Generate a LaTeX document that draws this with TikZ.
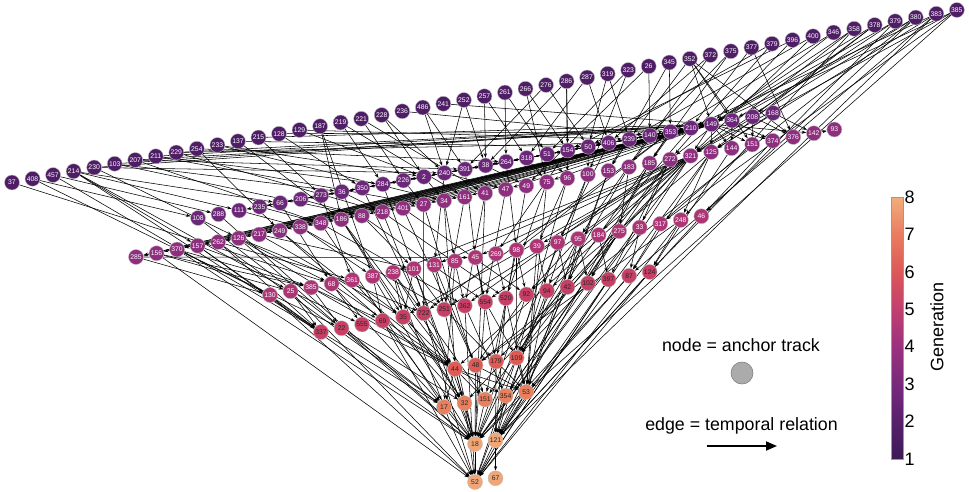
\documentclass[tikz,border=0pt]{standalone}
\usepackage{fontspec}
\setmainfont{Liberation Sans}
\usetikzlibrary{arrows.meta}
\pgfdeclarelayer{bg}
\pgfsetlayers{bg,main}
\definecolor{ga}{HTML}{4E1D66}
\definecolor{gb}{HTML}{6C2679}
\definecolor{gc}{HTML}{8E2E7E}
\definecolor{gd}{HTML}{AE3575}
\definecolor{ge}{HTML}{C83F66}
\definecolor{gf}{HTML}{E05A55}
\definecolor{gg}{HTML}{EA7F5E}
\definecolor{gh}{HTML}{F0A676}
\definecolor{cmA}{HTML}{3C1A55}
\definecolor{cmB}{HTML}{58206B}
\definecolor{cmC}{HTML}{792A7C}
\definecolor{cmD}{HTML}{9B317F}
\definecolor{cmE}{HTML}{C23F6F}
\definecolor{cmF}{HTML}{DC5858}
\definecolor{cmG}{HTML}{EA7C5F}
\definecolor{cmH}{HTML}{F1AE7C}
\pgfdeclareverticalshading{genbar}{100bp}{color(0bp)=(cmA); color(25bp)=(cmA); color(32.14bp)=(cmB); color(39.29bp)=(cmC); color(46.43bp)=(cmD); color(53.57bp)=(cmE); color(60.71bp)=(cmF); color(67.86bp)=(cmG); color(75bp)=(cmH); color(100bp)=(cmH)}
\begin{document}
\begin{tikzpicture}[x=1pt,y=-1pt,
  gnode/.style={circle,minimum size=15pt,inner sep=0pt,draw=black!25,line width=0.4pt,font=\fontsize{6.8}{7}\selectfont,text=white},
  ra/.style={gnode,fill=ga},
  rb/.style={gnode,fill=gb},
  rc/.style={gnode,fill=gc},
  rd/.style={gnode,fill=gd},
  re/.style={gnode,fill=ge,text=black!85},
  rf/.style={gnode,fill=gf,text=black!85},
  rg/.style={gnode,fill=gg,text=black!85},
  rh/.style={gnode,fill=gh,text=black!85},
  edge/.style={line width=0.55pt,-{Stealth[length=4.5pt,width=3.2pt]}},
  big/.style={font=\fontsize{17.8}{20}\selectfont},
  tick/.style={font=\fontsize{18}{20}\selectfont,anchor=west,inner sep=0pt}]
\useasboundingbox (0,0) rectangle (969,491);
% rows of nodes
\foreach \lab [count=\i] in {37,408,457,214,230,103,207,211,229,254,233,137,215,128,129,187,219,221,228,236,486,241,252,257,261,266,276,286,287,319,323,26,345,352,372,375,377,379,396,400,346,358,378,379,380,383,385}
  \node[ra] (a\i) at ({12+(\i-1)*20.54},{182.5-(\i-1)*3.75}) {\lab};
\foreach \lab [count=\i] in {108,288,111,235,66,206,273,36,350,284,226,2,240,391,38,264,318,51,154,50,406,239,140,353,210,149,364,208,168}
  \node[rb] (b\i) at ({198+(\i-1)*20.54},{218-(\i-1)*3.75}) {\lab};
\foreach \lab [count=\i] in {285,156,370,157,262,126,217,249,338,348,186,88,218,401,27,34,161,41,47,49,75,96,100,153,183,185,272,321,125,144,151,374,376,142,93}
  \node[rc] (c\i) at ({136+(\i-1)*20.54},{257-(\i-1)*3.75}) {\lab};
\foreach \lab [count=\i] in {130,25,385,68,361,387,238,101,131,85,45,269,98,39,97,95,184,275,33,317,248,46}
  \node[rd] (d\i) at ({270+(\i-1)*20.54},{295-(\i-1)*3.75}) {\lab};
\foreach \lab [count=\i] in {337,22,555,69,35,722,251,362,554,520,92,94,42,102,397,87,124}
  \node[re] (e\i) at ({321+(\i-1)*20.54},{332-(\i-1)*3.75}) {\lab};
\foreach \lab [count=\i] in {44,48,179,109}
  \node[rf] (f\i) at ({455+(\i-1)*20.54},{369-(\i-1)*3.75}) {\lab};
\foreach \lab [count=\i] in {17,32,151,354,53}
  \node[rg] (g\i) at ({444+(\i-1)*20.54},{407-(\i-1)*3.75}) {\lab};
\foreach \lab [count=\i] in {18,121}
  \node[rh] (h\i) at ({475+(\i-1)*20.54},{444-(\i-1)*3.75}) {\lab};
\foreach \lab [count=\i] in {52,67}
  \node[rh] (i\i) at ({475+(\i-1)*20.54},{482-(\i-1)*3.75}) {\lab};
% edges
\begin{pgfonlayer}{bg}
\foreach \ea/\eb in {a1/d4,a2/b1,a2/d1,a3/b2,a3/e1,a4/b3,a4/b5,a4/c4,a4/d2,a4/e1,a5/b13,a5/b26,a5/c6,a6/b8,a6/c12,a6/b26,a7/b14,a7/c10,a7/b25,a8/b26,a8/b10,a8/c15,a9/b21,a9/c13,a9/b26,a10/b16,a10/c8,a11/b12,a11/c16,a12/c11,a12/b20,a13/b26,a13/b7,a14/b9,a14/b24,a15/b12,a15/b22,a16/c11,a16/d6,a17/b10,a17/c17,a18/b11,a18/c18,a19/b12,a19/b13,a20/b23,a21/b13,a21/b14,a22/b26,a23/b13,a23/b15,a24/b15,a24/b17,a25/b16,a25/b18,a26/b19,a26/c21,a27/b20,a27/b14,a28/b15,a28/b19,a28/c22,a29/b21,a29/b17,a30/b20,a30/b22,a31/b18,a31/c23,a32/b23,a32/c20,a33/b24,a33/c24,a34/b26,a34/b27,a34/c31,a34/c33,a34/b22}
  \draw[edge] (\ea) -- (\eb);
\foreach \ea/\eb in {a35/b21,a35/c25,a36/b23,a36/c26,a37/c33,a37/b25,a38/b20,a38/c27,a39/b19,a39/b26,a40/b22,a40/c28,a41/c27,a41/b24,a42/b26,a42/d21,a42/c28,a43/b26,a43/b28,a43/c29,a44/b26,a44/e17,a44/c28,a45/b27,a45/d22,a45/f2,a45/c28,a46/c29,a46/e16,a46/h2,a46/b25,a47/b26,a47/d20,a47/g5,a47/c28}
  \draw[edge] (\ea) -- (\eb);
\foreach \ea/\eb in {b26/c1,b26/c2,b26/c3,b26/c4,b26/c5,b26/c6,b26/c7,b26/c8,b26/c9,b26/c10,b26/c12,b26/c13,b26/c14,b26/c15,b26/b3,b26/b4,b26/b5,b26/b6,b26/b7,b26/b8,b26/b9,b26/b11,b26/b14,b26/b16,b26/b18,b26/b20,b26/b22,b26/b24,b26/c29,b26/c30,b26/c31,b26/c32,b26/c34,b26/c28,b26/c17,b26/c19,b26/c21,b25/c1,b25/c3,b25/c5,b25/c11,b25/c16,b25/b10,b25/b15,b25/c7,b25/c9,b27/c32,b28/c33,b27/c30,b28/c31,b29/c34,b29/c29,c34/c35}
  \draw[edge] (\ea) -- (\eb);
\foreach \ea/\eb in {c28/d7,c28/d9,c28/d11,c28/e5,c28/e7,c28/e9,c28/f1,c28/f3,c28/g2,c28/i1,c28/h1,c28/e11,c28/d14,c28/d16,c27/e8,c27/f4,c27/d19,c27/e15,c27/g4,b24/e6,b24/d13,b24/g3,c29/d21,c29/e16,c29/h2,c29/e12,c30/e17,c31/d20,c32/d22}
  \draw[edge] (\ea) -- (\eb);
\foreach \ea/\eb in {b1/g1,b2/h1,b3/c9,b4/c10,b5/d4,b6/c12,b7/d5,b8/c13,b9/e6,b10/d8,b11/c15,b12/c16,b13/d9,b13/c19,b14/d11,b15/c20,b16/d13,b17/c21,b18/c22,b19/d12,b20/c23,b21/d15,b22/c24,b23/d16,b24/c26,b25/d17}
  \draw[edge] (\ea) -- (\eb);
\foreach \ea/\eb in {c1/d1,c1/d11,c2/d2,c2/d3,c2/i1,c3/d3,c3/e2,c3/h1,c4/d3,c4/e1,c4/h1,c5/d5,c5/e1,c5/g1,c6/d4,c6/e2,c6/e6,c6/f1,c7/e5,c7/d8,c8/e4,c8/f1,c9/e7,c9/d6,c10/e8,c10/g1,c11/e5,c11/f1,c11/g2,c12/d8,c12/e9,c13/e10,c13/h1,c14/e11,c14/f2,c15/e6,c15/g3,c16/d10,c16/f1,c17/e7,c18/e8,c18/h1,c19/e9,c20/f3,c21/e10,c21/g5,c22/d14,c22/f4,c23/e12,c23/h1,c24/e13,c24/g5,c25/d18,c25/f4,c26/e14,c26/h2}
  \draw[edge] (\ea) -- (\eb);
\foreach \ea/\eb in {d1/e1,d1/i1,d2/e1,d2/e3,d2/i1,d3/e2,d3/e4,d3/f1,d4/e3,d4/f1,d4/g1,d5/e5,d5/g2,d6/e4,d6/h1,d7/e5,d7/e6,d7/f1,d7/g1,d8/e5,d8/e7,d8/g2,d8/h1,d9/e7,d9/f2,d10/e8,d10/g1,d11/e9,d11/f3,d12/e10,d13/e11,d13/f4,d13/g3,d14/e12,d14/g5,d15/e13,d15/h2,d16/e11,d16/e13,d16/e14,d16/f4,d16/g5,d17/e15,d18/e14,d18/g4,d19/e16,d19/h1,d20/e16,d21/e17,d21/f2,d21/i1,d22/h2}
  \draw[edge] (\ea) -- (\eb);
\foreach \ea/\eb in {e1/g1,e2/g2,e2/h1,e3/f1,e4/h1,e4/i1,e5/f1,e5/g2,e6/g3,e6/i1,e7/h1,e7/f3,e8/g4,e8/i1,e9/f4,e9/h1,e10/g5,e10/h2,e11/h1,e11/f2,e12/g5,e12/i1,e13/h2,e14/h1,e14/f4,e15/h2,e15/i1,e16/h1,e16/g5,e17/i1,e17/h2,f1/g1,f1/g2,f1/g3,f1/g4,f1/g5,f1/h1,f2/g5,f2/h1,f3/h2,f3/g5,f4/g5,f4/h1,f4/i1,g1/h1,g1/i1,g2/h1,g2/i1,g3/h1,g4/h2,g5/h1,g5/h2,g5/i1,h1/i1,h2/i2,h2/i1}
  \draw[edge] (\ea) -- (\eb);
\end{pgfonlayer}
% legend
\node[big] (lt1) at (741,345) {node = anchor track};
\node[circle,minimum size=22pt,inner sep=0pt,fill=black!33,draw=black!50,line width=0.6pt] (lc) at (742,373) {};
\node[big] (lt2) at (741.5,426) {edge = temporal relation};
\coordinate (la1) at (707,446);
\coordinate (la2) at (777,446);
\draw[line width=1.8pt,-{Triangle[length=11pt,width=9pt]}] (la1) -- (la2);
% colour bar
\shadedraw[shading=genbar,draw=black!40,line width=0.5pt] (891,197) rectangle (903,459);
\foreach \k in {1,...,8}
  \node[tick] (t\k) at (904.5,{459-(\k-1)*37.43}) {\k};
\node[font=\fontsize{18}{20}\selectfont,rotate=90] (glab) at (937,327) {Generation};
\end{tikzpicture}
\end{document}
